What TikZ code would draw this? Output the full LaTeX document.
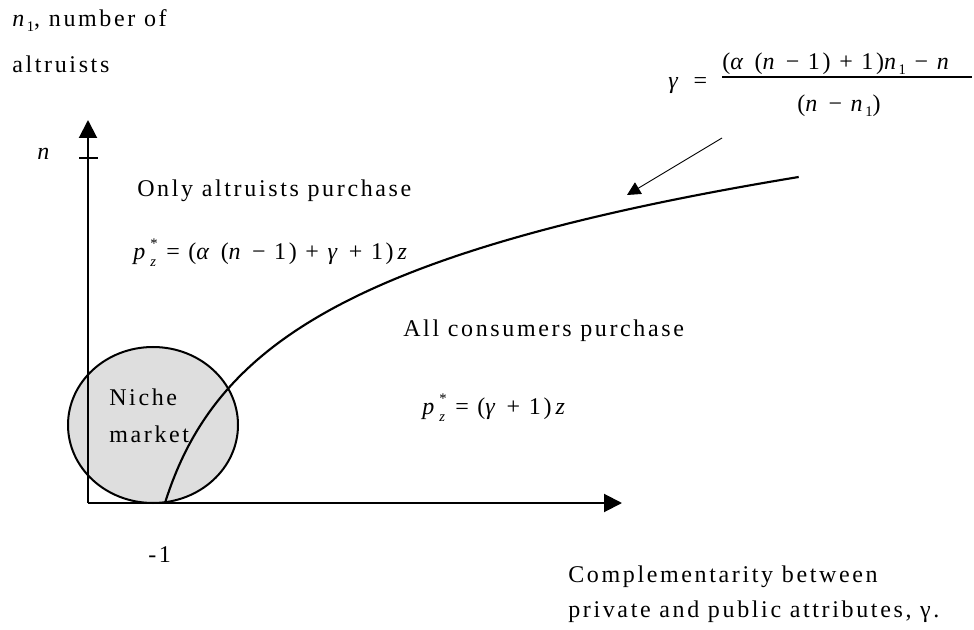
\documentclass[tikz,border=0pt]{standalone}
\usepackage{fontspec}
\setmainfont{Liberation Serif}[LetterSpace=11]
\usetikzlibrary{arrows.meta}
\newcommand\sbx[1]{\raisebox{-0.45ex}{\fontsize{11}{11}\selectfont #1}}
\newcommand\pzs{\textit{p}\makebox[0pt][l]{\raisebox{1.05ex}{\fontsize{11}{11}\selectfont\,*}}\raisebox{-0.55ex}{\fontsize{11}{11}\selectfont\,\textit{z}}}
\begin{document}
\begin{tikzpicture}[x=0.75pt,y=-0.75pt,
  lbl/.style={inner sep=0pt,anchor=base west,font=\fontsize{18}{22}\selectfont},
  axis/.style={line width=1.5pt,-{Triangle[length=13.5pt,width=13.5pt]}},
  curve/.style={line width=1.6pt},
  pointer/.style={line width=0.7pt,-{Triangle[length=10pt,width=10pt]}}]
\useasboundingbox (0,0) rectangle (974,630);
% niche market circle
\filldraw[fill=black!13,draw=black,line width=1.5pt] (153,425) ellipse [x radius=85, y radius=78];
% axes
\coordinate (O) at (88,503);
\coordinate (Ytip) at (88,120);
\coordinate (Xtip) at (622,503);
\draw[axis] (O) -- (Ytip);
\draw[axis] (O) -- (Xtip);
\coordinate (tl) at (79,158);
\coordinate (tr) at (98,158);
\draw[line width=1.5pt] (tl) -- (tr);
% curve
\draw[curve] plot[domain=0:326,samples=120,variable=\h] ({165+34.5*(exp(\h/110)-1)},{503-\h});
% labels
\node[lbl] (n1lab) at (12,27) {\textit{n}\sbx{1}, number of};
\node[lbl] (altr) at (12,73) {altruists};
\node[lbl] (nlab) at (37,160) {\textit{n}};
\node[lbl] (only) at (137,197) {Only altruists purchase};
\node[lbl] (p1) at (133,260) {\pzs\ = (\textit{α} (\textit{n} − 1) + \textit{γ} + 1)\,\textit{z}};
\node[lbl] (all) at (403,337) {All consumers purchase};
\node[lbl] (p2) at (422,415) {\pzs\ = (\textit{γ} + 1)\,\textit{z}};
\node[lbl] (niche) at (109,406) {Niche};
\node[lbl] (mkt) at (109,443) {market};
\node[lbl] (m1) at (148,562) {-1};
\node[lbl] (comp) at (568,582) {Complementarity between};
\node[lbl] (priv) at (568,617) {private and public attributes, γ.};
% formula
\node[lbl] (geq) at (668,89) {\textit{γ} \,=};
\node[lbl] (num) at (722,70) {(\textit{α} (\textit{n} − 1) + 1)\textit{n}\sbx{1} − \textit{n}};
\node[lbl] (den) at (797,112) {(\textit{n} − \textit{n}\sbx{1})};
\coordinate (fl) at (722,77);
\coordinate (fr) at (972,77);
\draw[line width=0.9pt] (fl) -- (fr);
% pointer arrow
\coordinate (pa) at (722,138);
\coordinate (pb) at (627,195);
\draw[pointer] (pa) -- (pb);
\end{tikzpicture}
\end{document}
